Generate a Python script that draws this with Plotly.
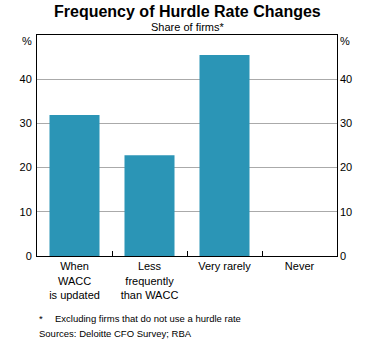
import plotly.graph_objects as go

categories = ["When<br>WACC<br>is updated", "Less<br>frequently<br>than WACC", "Very rarely", "Never"]
values = [31.9, 22.8, 45.5, 0]
yticks = [0, 10, 20, 30, 40]

BAR = "#2B95B6"
FONT = "Arial, Liberation Sans, sans-serif"

fig = go.Figure()
fig.add_trace(go.Bar(x=categories, y=values, marker=dict(color=BAR, line=dict(width=0)),
                     width=0.667, showlegend=False))
fig.add_trace(go.Scatter(x=categories, y=values, yaxis="y2", mode="markers",
                         marker=dict(opacity=0), showlegend=False, hoverinfo="skip"))

fig.update_layout(
    width=373, height=343,
    margin=dict(l=37, r=36, t=35, b=87),
    paper_bgcolor="white", plot_bgcolor="white",
    font=dict(family=FONT, size=11, color="black"),
    bargap=0.333,
    xaxis=dict(showline=True, linecolor="black", linewidth=1, mirror=True,
               ticks="inside", tickson="boundaries", ticklen=5, tickcolor="black",
               showgrid=False, tickfont=dict(size=11), ticklabelstandoff=0),
    yaxis=dict(range=[0, 50], tickvals=yticks, showline=True, linecolor="black",
               linewidth=1, mirror=True, showgrid=True, gridcolor="#AAAAAA",
               gridwidth=1, ticks="", zeroline=False, tickfont=dict(size=11), ticklabelstandoff=2),
    yaxis2=dict(range=[0, 50], tickvals=yticks, overlaying="y", side="right",
                showgrid=False, showline=False, ticks="", zeroline=False,
                tickfont=dict(size=11), ticklabelstandoff=2),
)

ann = [
    dict(text="<b>Frequency of Hurdle Rate Changes</b>", x=0.5, y=12, font=dict(size=16)),
    dict(text="Share of firms*", x=0.5, y=27, font=dict(size=11)),
]
for a in ann:
    fig.add_annotation(text=a["text"], xref="paper", x=a["x"], yref="paper",
                       y=1 + (35 - a["y"]) / 221, yanchor="middle", showarrow=False, font=a["font"])

fig.add_annotation(text="%", xref="paper", x=-0.01, xanchor="right", yref="paper",
                   y=1 - 6 / 221, yanchor="middle", showarrow=False, font=dict(size=11))
fig.add_annotation(text="%", xref="paper", x=1.005, xanchor="left", yref="paper",
                   y=1 - 6 / 221, yanchor="middle", showarrow=False, font=dict(size=11))

fig.add_annotation(text="*", xref="paper", x=0, xanchor="left", yref="paper",
                   y=-(318 - 256) / 221, yanchor="middle", showarrow=False, font=dict(size=9.5))
fig.add_annotation(text="Excluding firms that do not use a hurdle rate", xref="paper",
                   x=16 / 300, xanchor="left", yref="paper",
                   y=-(318 - 256) / 221, yanchor="middle", showarrow=False, font=dict(size=9.5))
fig.add_annotation(text="Sources: Deloitte CFO Survey; RBA", xref="paper", x=0, xanchor="left",
                   yref="paper", y=-(333 - 256) / 221, yanchor="middle", showarrow=False,
                   font=dict(size=9.5))

fig.write_html("out.html")
